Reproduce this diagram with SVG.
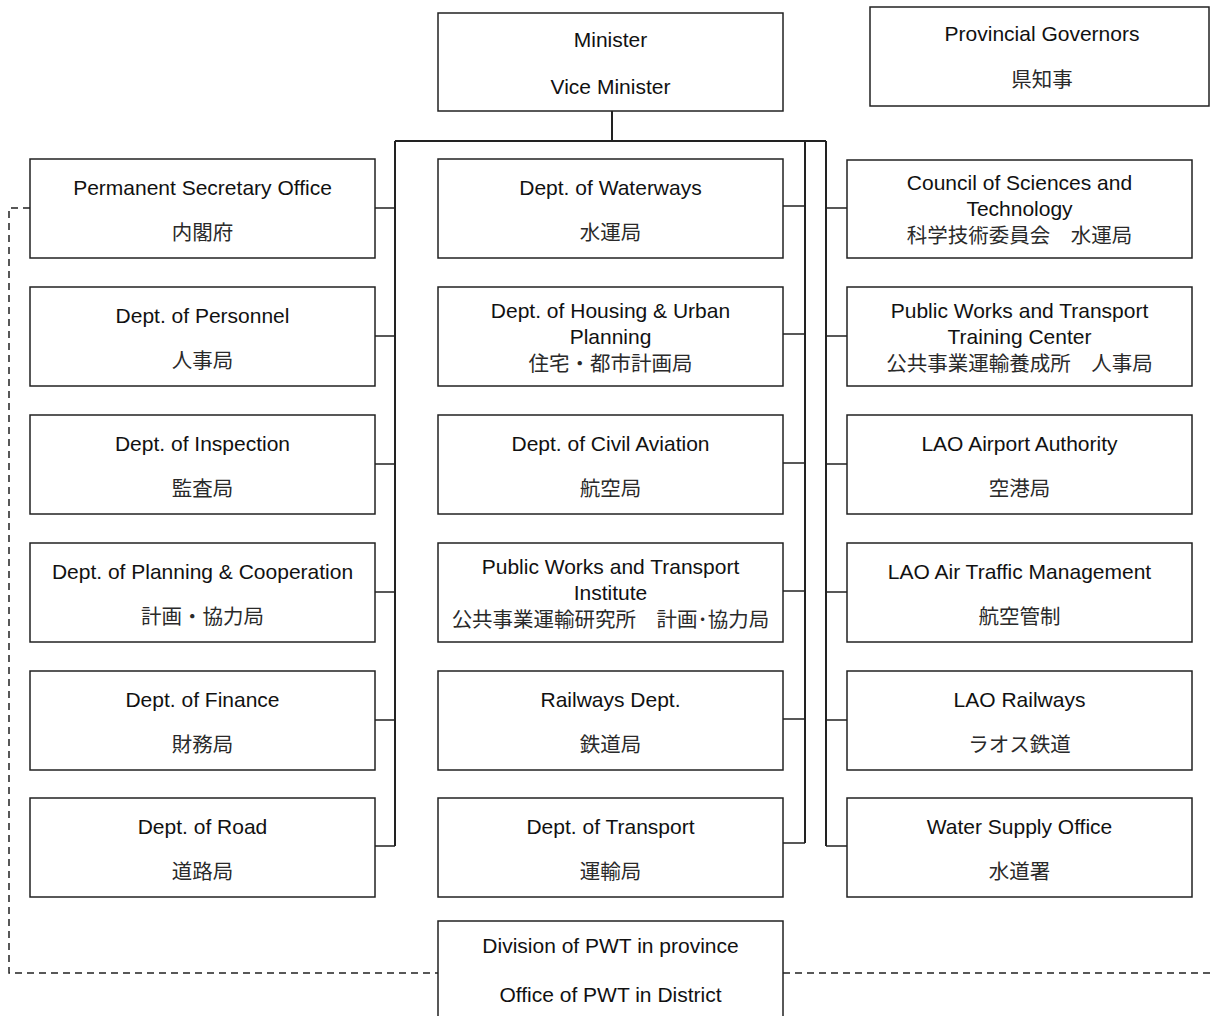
<svg xmlns="http://www.w3.org/2000/svg" width="1210" height="1016" viewBox="0 0 1210 1016">
<style>
.box{fill:#fff;stroke:#222;stroke-width:1.5}
.t{font-family:"Liberation Sans",Arial,"Noto Sans CJK JP",sans-serif;font-size:21px;fill:#111;text-anchor:middle}
.j{font-family:"Noto Sans CJK JP","Liberation Sans",sans-serif;font-size:20.5px;fill:#2a2a2a;text-anchor:middle}
.bus{fill:none;stroke:#222;stroke-width:2}
.ln{fill:none;stroke:#222;stroke-width:1.5}
.dash{fill:none;stroke:#222;stroke-width:1.5;stroke-dasharray:7,5}
</style>
<rect width="1210" height="1016" fill="#fff"/>
<g id="connectors">
<path class="bus" d="M612,111V141M395,141H826M395,141V846M805,141V843M826,141V846"/>
<path class="ln" d="M375,208H395M375,336H395M375,464H395M375,592H395M375,720H395M375,846H395"/>
<path class="ln" d="M783,206H805M783,334H805M783,463H805M783,591H805M783,719H805M783,843H805"/>
<path class="ln" d="M826,208H847M826,336H847M826,464H847M826,592H847M826,720H847M826,846H847"/>
<path class="dash" d="M30,208H9V973H438"/>
<path class="dash" d="M783,973H1210"/>
</g>
<g id="minister"><rect class="box" x="438" y="13" width="345" height="98"/><text class="t" x="610.5" y="47">Minister</text><text class="t" x="610.5" y="94">Vice Minister</text></g>
<g id="governors"><rect class="box" x="870" y="7" width="339" height="99"/><text class="t" x="1042" y="41">Provincial Governors</text><text class="j" x="1042" y="87">県知事</text></g>

<g id="l1"><rect class="box" x="30" y="159" width="345" height="99"/><text class="t" x="202.5" y="195">Permanent Secretary Office</text><text class="j" x="202.5" y="240">内閣府</text></g>
<g id="l2"><rect class="box" x="30" y="287" width="345" height="99"/><text class="t" x="202.5" y="323">Dept. of Personnel</text><text class="j" x="202.5" y="368">人事局</text></g>
<g id="l3"><rect class="box" x="30" y="415" width="345" height="99"/><text class="t" x="202.5" y="451">Dept. of Inspection</text><text class="j" x="202.5" y="496">監査局</text></g>
<g id="l4"><rect class="box" x="30" y="543" width="345" height="99"/><text class="t" x="202.5" y="579">Dept. of Planning &amp; Cooperation</text><text class="j" x="202.5" y="624">計画・協力局</text></g>
<g id="l5"><rect class="box" x="30" y="671" width="345" height="99"/><text class="t" x="202.5" y="707">Dept. of Finance</text><text class="j" x="202.5" y="752">財務局</text></g>
<g id="l6"><rect class="box" x="30" y="798" width="345" height="99"/><text class="t" x="202.5" y="834">Dept. of Road</text><text class="j" x="202.5" y="879">道路局</text></g>

<g id="m1"><rect class="box" x="438" y="159" width="345" height="99"/><text class="t" x="610.5" y="195">Dept. of Waterways</text><text class="j" x="610.5" y="240">水運局</text></g>
<g id="m2"><rect class="box" x="438" y="287" width="345" height="99"/><text class="t" x="610.5" y="318">Dept. of Housing &amp; Urban</text><text class="t" x="610.5" y="344">Planning</text><text class="j" x="610.5" y="371">住宅・都市計画局</text></g>
<g id="m3"><rect class="box" x="438" y="415" width="345" height="99"/><text class="t" x="610.5" y="451">Dept. of Civil Aviation</text><text class="j" x="610.5" y="496">航空局</text></g>
<g id="m4"><rect class="box" x="438" y="543" width="345" height="99"/><text class="t" x="610.5" y="574">Public Works and Transport</text><text class="t" x="610.5" y="600">Institute</text><text class="j" x="610.5" y="627">公共事業運輸研究所　計画･協力局</text></g>
<g id="m5"><rect class="box" x="438" y="671" width="345" height="99"/><text class="t" x="610.5" y="707">Railways Dept.</text><text class="j" x="610.5" y="752">鉄道局</text></g>
<g id="m6"><rect class="box" x="438" y="798" width="345" height="99"/><text class="t" x="610.5" y="834">Dept. of Transport</text><text class="j" x="610.5" y="879">運輸局</text></g>

<g id="r1"><rect class="box" x="847" y="160" width="345" height="98"/><text class="t" x="1019.5" y="190">Council of Sciences and</text><text class="t" x="1019.5" y="216">Technology</text><text class="j" x="1019.5" y="243">科学技術委員会　水運局</text></g>
<g id="r2"><rect class="box" x="847" y="287" width="345" height="99"/><text class="t" x="1019.5" y="318">Public Works and Transport</text><text class="t" x="1019.5" y="344">Training Center</text><text class="j" x="1019.5" y="371">公共事業運輸養成所　人事局</text></g>
<g id="r3"><rect class="box" x="847" y="415" width="345" height="99"/><text class="t" x="1019.5" y="451">LAO Airport Authority</text><text class="j" x="1019.5" y="496">空港局</text></g>
<g id="r4"><rect class="box" x="847" y="543" width="345" height="99"/><text class="t" x="1019.5" y="579">LAO Air Traffic Management</text><text class="j" x="1019.5" y="624">航空管制</text></g>
<g id="r5"><rect class="box" x="847" y="671" width="345" height="99"/><text class="t" x="1019.5" y="707">LAO Railways</text><text class="j" x="1019.5" y="752">ラオス鉄道</text></g>
<g id="r6"><rect class="box" x="847" y="798" width="345" height="99"/><text class="t" x="1019.5" y="834">Water Supply Office</text><text class="j" x="1019.5" y="879">水道署</text></g>

<g id="division"><rect class="box" x="438" y="921" width="345" height="110"/><text class="t" x="610.5" y="953">Division of PWT in province</text><text class="t" x="610.5" y="1002">Office of PWT in District</text></g>
</svg>
